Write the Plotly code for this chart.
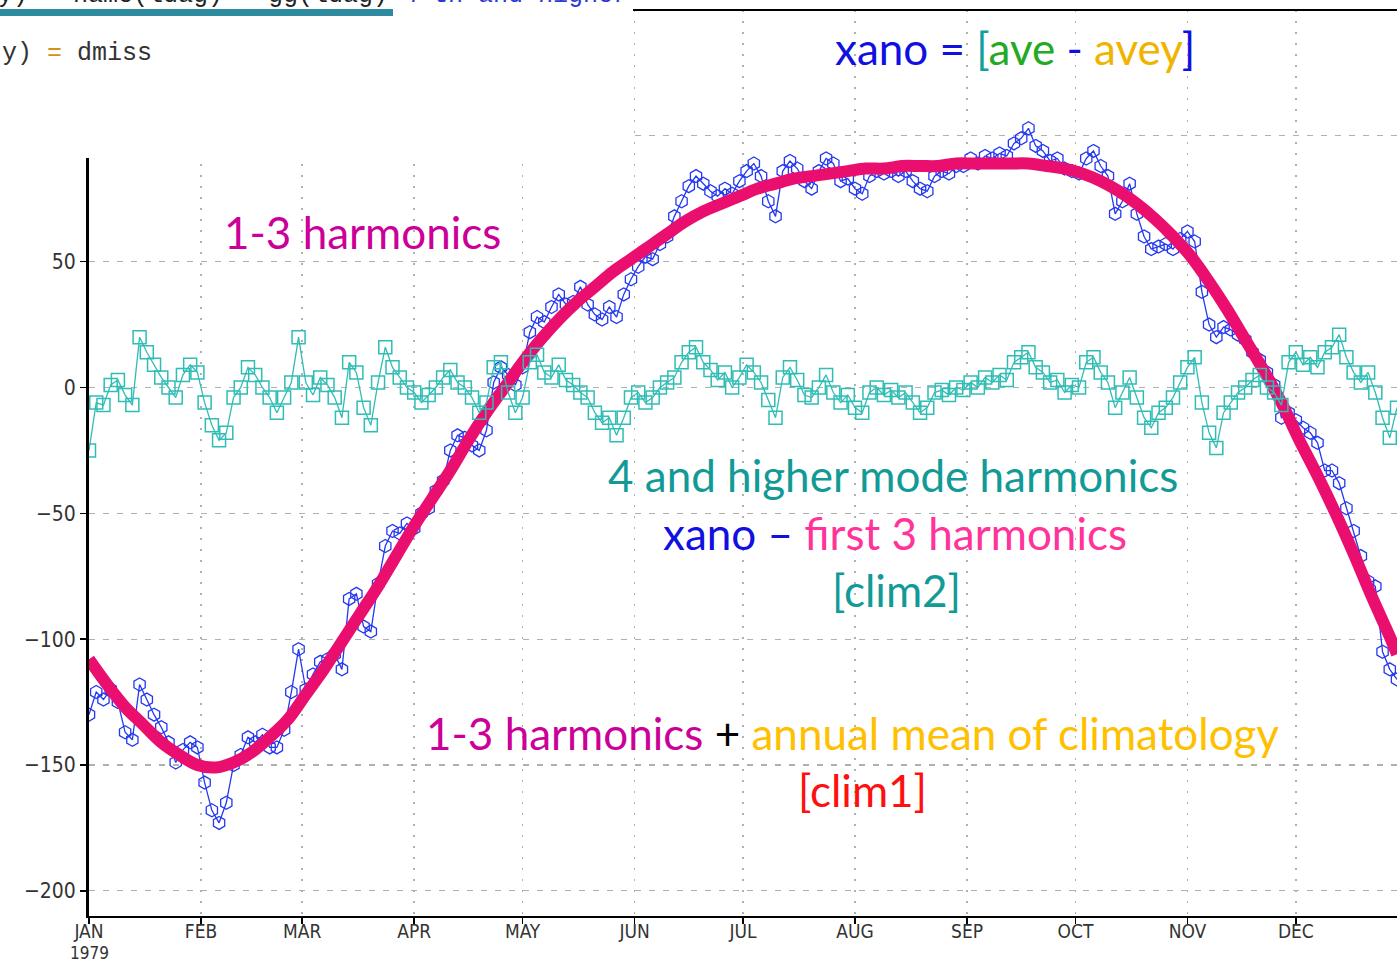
import plotly.graph_objects as go

# ---------------- data ----------------
month_days = [0, 31, 59, 90, 120, 151, 181, 212, 243, 273, 304, 334]
month_labels = ["JAN", "FEB", "MAR", "APR", "MAY", "JUN",
                "JUL", "AUG", "SEP", "OCT", "NOV", "DEC"]
year_label = "1979"
y_ticks = [-200, -150, -100, -50, 0, 50, 100]

# observation days (every 2nd day from 1 Jan 1979)
obs_days = list(range(0, 363, 2))

# xano (blue hexagons)
xano = [
    -130, -121, -124, -120, -125, -137, -140, -118, -124, -130,
    -135, -141, -149, -144, -141, -143, -157, -168, -173, -165,
    -150, -146, -139, -141, -138, -143, -143, -136, -121, -104,
    -120, -114, -109, -108, -106, -112, -84, -82, -95, -97,
    -78, -63, -57, -58, -54, -56, -50, -48, -41, -37,
    -25, -19, -20, -23, -25, -17, 2, 8, 5, 1,
    8, 22, 28, 26, 32, 37, 33, 34, 40, 33,
    29, 27, 32, 28, 37, 43, 48, 52, 51, 57,
    60, 68, 74, 80, 84, 81, 78, 76, 79, 77,
    82, 86, 89, 84, 74, 68, 86, 90, 87, 82,
    79, 86, 91, 89, 82, 83, 79, 77, 84, 86,
    85, 86, 84, 86, 82, 79, 78, 84, 86, 85,
    88, 88, 91, 89, 92, 91, 93, 92, 97, 99,
    103, 96, 94, 90, 91, 87, 86, 85, 91, 94,
    88, 84, 69, 74, 81, 69, 60, 55, 56, 57,
    55, 59, 62, 58, 38, 25, 20, 24, 23, 21,
    19, 14, 11, 6, 1, -12, -10, -13, -16, -18,
    -22, -33, -33, -38, -48, -57, -67, -77, -79, -105,
    -112, -116,
]

# 4th and higher harmonics (teal squares)
clim2 = [
    -25, -6, -7, 1, 3, -3, -7, 20, 14, 9,
    4, 0, -4, 5, 9, 6, -6, -15, -21, -18,
    -4, 0, 8, 5, 0, -4, -10, -4, 2, 20,
    2, -3, 4, 1, -4, -12, 10, 6, -8, -15,
    2, 16, 8, 4, 0, -2, -6, -3, 0, 4,
    7, 2, 0, -4, -10, -6, 8, 10, -2, -10,
    -4, 10, 13, 6, 4, 9, 3, 1, -2, -4,
    -10, -14, -12, -19, -12, -4, -2, -6, -4, 0,
    2, 4, 10, 14, 16, 10, 7, 3, 6, 0,
    4, 9, 6, 2, -5, -12, 4, 8, 3, -3,
    -4, 0, 5, -2, -6, -3, -8, -10, -2, 0,
    -3, -1, -4, -2, -6, -10, -8, -2, -1, -3,
    0, -1, 2, 0, 4, 2, 5, 3, 10, 12,
    14, 8, 6, 2, 3, -2, 1, 0, 10, 12,
    6, 2, -8, -2, 4, -4, -12, -16, -10, -8,
    -4, 2, 8, 12, -6, -18, -24, -10, -6, -2,
    0, 3, 5, 0, -2, -7, 10, 14, 9, 12,
    8, 14, 16, 21, 12, 6, 2, 6, -2, -12,
    -20, -8,
]

# 1-3 harmonics (thick pink curve)
harm_days = [0, 5, 10, 15, 20, 25, 30, 35, 40, 45, 50, 55, 60, 65, 70, 75,
             80, 85, 90, 95, 100, 105, 110, 115, 120, 125, 130, 135, 140,
             145, 150, 155, 160, 165, 170, 175, 180, 185, 190, 195, 200,
             205, 210, 215, 220, 225, 230, 235, 240, 245, 250, 255, 260,
             265, 270, 275, 280, 285, 290, 295, 300, 305, 310, 315, 320,
             325, 330, 335, 340, 345, 350, 355, 360, 362]
harm13 = [-108, -118, -127, -134, -141, -146, -150, -151, -149, -145, -139,
          -132, -122, -112, -101, -90, -79, -67, -55, -44, -33, -21, -10,
          0, 10, 19, 27, 34, 40, 46, 51, 56, 61, 66, 70, 73, 76, 79, 81,
          83, 84, 85, 86, 87, 87, 88, 88, 88, 89, 89, 89, 89, 89, 88, 87,
          85, 82, 78, 73, 67, 60, 52, 42, 31, 19, 7, -6, -21, -35, -50,
          -66, -83, -99, -106]

# ---------------- layout geometry ----------------
W, H = 1397, 962
ML, MR, MT, MB = 89, 0, 10, 46
PW, PH = W - ML - MR, H - MT - MB


def px(x):
    return (x - ML) / PW


def py(y):
    return (H - MB - y) / PH


BLUE = "#2438f0"
TEAL = "#2fbdb5"
PINK = "#ea0e6e"

fig = go.Figure()
fig.add_trace(go.Scatter(
    x=obs_days, y=xano, mode="lines+markers",
    line=dict(color=BLUE, width=1.3),
    marker=dict(symbol="hexagon-open", size=13, color=BLUE,
                line=dict(color=BLUE, width=1.3)),
    hoverinfo="skip"))
fig.add_trace(go.Scatter(
    x=harm_days, y=harm13, mode="lines",
    line=dict(color=PINK, width=12, shape="spline", smoothing=1.0),
    hoverinfo="skip"))
fig.add_trace(go.Scatter(
    x=obs_days, y=clim2, mode="lines+markers",
    line=dict(color=TEAL, width=1.3),
    marker=dict(symbol="square-open", size=13, color=TEAL,
                line=dict(color=TEAL, width=1.5)),
    hoverinfo="skip"))

TICK_FAMILY = "DejaVu Sans Condensed, DejaVu Sans"
tick_font = dict(family=TICK_FAMILY, size=21, color="#333333")
xtick_font = dict(family=TICK_FAMILY, size=19, color="#333333")
year_font = dict(family=TICK_FAMILY, size=17, color="#333333")

fig.update_layout(
    width=W, height=H,
    margin=dict(l=ML, r=MR, t=MT, b=MB, pad=0, autoexpand=False),
    paper_bgcolor="white", plot_bgcolor="white",
    showlegend=False,
    xaxis=dict(
        range=[0, 362], tickmode="array", tickvals=month_days,
        ticktext=month_labels, ticks="outside", ticklen=6, tickwidth=1.5,
        tickcolor="black", showline=True, linecolor="black", linewidth=2,
        showgrid=True, gridcolor="#b0b0b0", gridwidth=1.5, griddash="2px,9px",
        zeroline=False, tickfont=xtick_font, fixedrange=True,
        automargin=False, ticklabelstandoff=-9),
    yaxis=dict(
        range=[-210, 150], tickmode="array", tickvals=y_ticks,
        ticks="outside", ticklen=6, tickwidth=1.5, tickcolor="black",
        showline=True, linecolor="black", linewidth=3,
        showgrid=True, gridcolor="#b0b0b0", gridwidth=1.2, griddash="6px,8px",
        zeroline=False, tickfont=tick_font, fixedrange=True,
        automargin=False),
)

shapes = [
    # white box overlay (pasted code snippet) at top-left
    dict(type="rect", xref="paper", yref="paper", x0=px(-5), x1=px(631),
         y0=py(158), y1=py(-5), fillcolor="white", line=dict(width=0),
         layer="above"),
    # teal bar under the code header
    dict(type="rect", xref="paper", yref="paper", x0=px(-5), x1=px(393),
         y0=py(16), y1=py(9), fillcolor="#2e8a9e", line=dict(width=0),
         layer="above"),
    # top frame line
    dict(type="line", xref="paper", yref="paper", x0=px(633), x1=1,
         y0=py(10), y1=py(10), line=dict(color="black", width=2),
         layer="above"),
]
fig.update_layout(shapes=shapes)

AF = "Lato"
FS = 44


def ann(text, cx, cy, size=FS, color="black", family=AF, xanchor="center"):
    return dict(text=text, x=px(cx), y=py(cy), xref="paper", yref="paper",
                xanchor=xanchor, yanchor="middle", showarrow=False,
                font=dict(family=family, size=size, color=color))


def c(t, col):
    return f"<span style='color:{col}'>{t}</span>"


annotations = [
    ann(c("xano = ", "#1010e0") + c("[", "#10a0a0") + c("ave", "#22aa22")
        + c(" - ", "#1010e0") + c("avey", "#f0b400") + c("]", "#1010e0"),
        1015, 48),
    ann("1-3 harmonics", 362, 232, color="#cc0099"),
    ann("4 and higher mode harmonics", 893, 475, color="#119a96"),
    ann(c("xano \u2013 ", "#1010e0") + c("first 3 harmonics", "#ff3399"),
        895, 533),
    ann("[clim2]", 896, 590, color="#119a96"),
    ann(c("1-3 harmonics", "#cc0099") + c(" + ", "#000000")
        + c("annual mean of climatology", "#ffc000"), 852, 733),
    ann("[clim1]", 862, 790, color="#ff1010"),
    # pasted code snippet text
    ann("y) " + c("=", "#d4901a") + " dmiss", 0, 53, size=25,
        color="#333333", family="Liberation Mono", xanchor="left"),
    ann("y)   name(ldag)   gg(ldag) " + c("4-th and higher", "#2a3ad0"),
        -4, -5, size=25, color="#222222", family="Liberation Mono",
        xanchor="left"),
    # year under the first month tick
    dict(text=year_label, x=month_days[0], xref="x", y=py(964),
         yref="paper", xanchor="center", yanchor="bottom", showarrow=False,
         borderpad=0, font=year_font),
]
fig.update_layout(annotations=annotations)

fig.write_html(
    "out.html",
    config={"displayModeBar": False, "staticPlot": True},
    post_script="document.body.style.margin='0';"
                "document.body.style.overflow='hidden';")
